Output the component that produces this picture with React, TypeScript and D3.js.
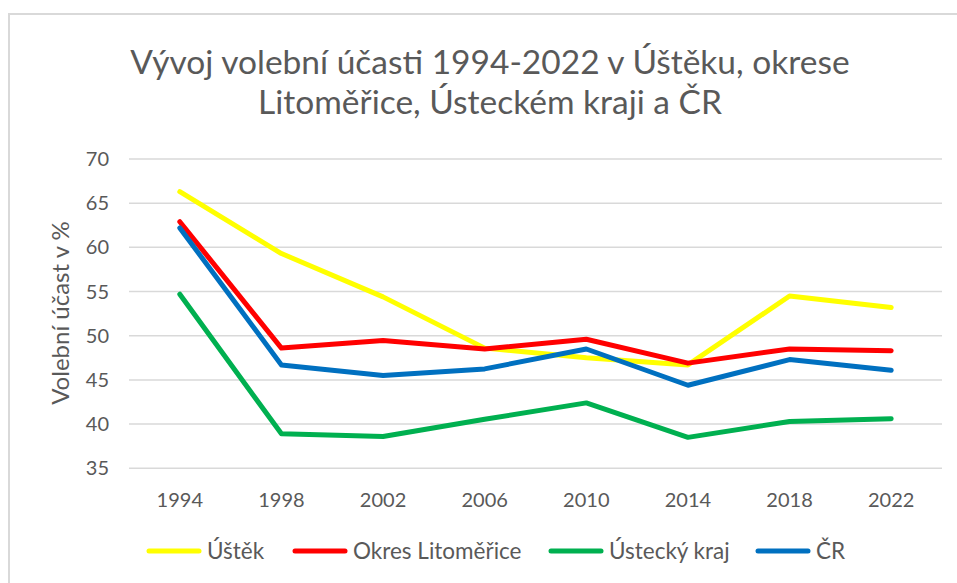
import React, { useEffect, useRef } from 'react';
import * as d3 from 'd3';

const years = ['1994', '1998', '2002', '2006', '2010', '2014', '2018', '2022'];
const ustek = [66.3, 59.3, 54.4, 48.6, 47.5, 46.7, 54.5, 53.2];
const okresLitomerice = [62.9, 48.6, 49.45, 48.5, 49.6, 46.9, 48.5, 48.3];
const usteckyKraj = [54.7, 38.9, 38.6, 40.55, 42.4, 38.5, 40.3, 40.6];
const cr = [62.2, 46.7, 45.5, 46.25, 48.5, 44.4, 47.3, 46.1];
const yTicks = [35, 40, 45, 50, 55, 60, 65, 70];

const seriesNames = ['Úštěk', 'Okres Litoměřice', 'Ústecký kraj', 'ČR'];
const seriesColors = ['#FFFF00', '#FF0000', '#00B050', '#0070C0'];

const FONT = 'Lato, "Open Sans", sans-serif';
const TEXT = '#595959';

const App = () => {
  const svgRef = useRef<SVGSVGElement>(null);

  useEffect(() => {
    const width = 957;
    const height = 583;
    const svg = d3.select(svgRef.current);
    svg.selectAll('*').remove();
    svg.attr('width', width).attr('height', height);

    svg.append('rect')
      .attr('width', width).attr('height', height).attr('fill', '#fff');

    // chart frame (runs off the right and bottom edge)
    svg.append('rect')
      .attr('x', 9).attr('y', 14)
      .attr('width', 1000).attr('height', 700)
      .attr('fill', 'none').attr('stroke', '#d9d9d9').attr('stroke-width', 2);

    const x = d3.scalePoint()
      .domain(years)
      .range([129, 942])
      .padding(0.5);

    const y = d3.scaleLinear()
      .domain([35, 70])
      .range([468.3, 159]);

    // title
    const title = svg.append('text')
      .attr('text-anchor', 'middle')
      .attr('font-family', FONT)
      .attr('font-size', 33.5)
      .attr('fill', TEXT);
    title.append('tspan').attr('x', 490).attr('y', 74)
      .text('Vývoj volební účasti 1994-2022 v Úštěku, okrese');
    title.append('tspan').attr('x', 490).attr('y', 114)
      .text('Litoměřice, Ústeckém kraji a ČR');

    // gridlines
    svg.append('g')
      .selectAll('line')
      .data(yTicks)
      .enter()
      .append('line')
      .attr('x1', 129).attr('x2', 942)
      .attr('y1', d => y(d)).attr('y2', d => y(d))
      .attr('stroke', '#d9d9d9').attr('stroke-width', 1.5);

    // y tick labels
    svg.append('g')
      .selectAll('text')
      .data(yTicks)
      .enter()
      .append('text')
      .attr('x', 109)
      .attr('y', d => y(d))
      .attr('dy', '0.35em')
      .attr('text-anchor', 'end')
      .attr('font-family', FONT)
      .attr('font-size', 20)
      .attr('fill', TEXT)
      .text(d => d);

    // x labels
    svg.append('g')
      .selectAll('text')
      .data(years)
      .enter()
      .append('text')
      .attr('x', d => x(d)!)
      .attr('y', 507)
      .attr('text-anchor', 'middle')
      .attr('font-family', FONT)
      .attr('font-size', 20)
      .attr('fill', TEXT)
      .text(d => d);

    // y axis title
    svg.append('text')
      .attr('transform', 'translate(69, 313) rotate(-90)')
      .attr('text-anchor', 'middle')
      .attr('font-family', FONT)
      .attr('font-size', 24)
      .attr('fill', TEXT)
      .text('Volební účast v %');

    const allSeries = [ustek, okresLitomerice, usteckyKraj, cr];
    const line = d3.line<number>()
      .x((_, i) => x(years[i])!)
      .y(d => y(d));

    svg.append('g')
      .selectAll('path')
      .data(allSeries)
      .enter()
      .append('path')
      .attr('d', d => line(d))
      .attr('fill', 'none')
      .attr('stroke', (_, i) => seriesColors[i])
      .attr('stroke-width', 5)
      .attr('stroke-linejoin', 'round')
      .attr('stroke-linecap', 'round');

    // legend
    const legendX = [147, 293, 549, 756];
    const legend = svg.append('g')
      .selectAll('g')
      .data(seriesNames)
      .enter()
      .append('g')
      .attr('transform', (_, i) => `translate(${legendX[i]}, 551)`);
    legend.append('line')
      .attr('x1', 2).attr('x2', 52)
      .attr('stroke', (_, i) => seriesColors[i])
      .attr('stroke-width', 5)
      .attr('stroke-linecap', 'round');
    legend.append('text')
      .attr('x', 60)
      .attr('dy', '0.35em')
      .attr('font-family', FONT)
      .attr('font-size', 22.5)
      .attr('fill', TEXT)
      .text(d => d);
  }, []);

  return (
    <div style={{ position: 'absolute', left: 0, top: 0 }}>
      <svg ref={svgRef} style={{ display: 'block' }}></svg>
    </div>
  );
};

export default App;
